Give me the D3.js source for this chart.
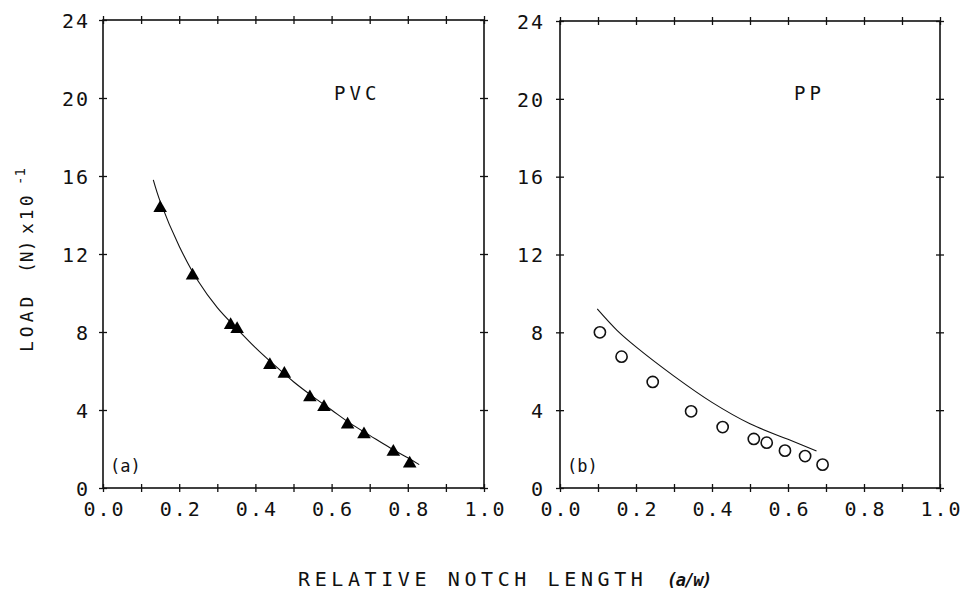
<!DOCTYPE html>
<html>
<head>
<meta charset="utf-8">
<script src="https://cdn.jsdelivr.net/npm/d3@7"></script>
<style>
  body { margin: 0; background: #fff; }
  svg text { font-family: "DejaVu Sans Mono", monospace; fill: #111; }
</style>
</head>
<body>
<div id="chart"></div>
<script>
// measured points, PVC (triangles)
var pvcX = [0.15, 0.235, 0.335, 0.352, 0.438, 0.476, 0.543, 0.58, 0.642, 0.685, 0.762, 0.805];
var pvcY = [14.4, 10.95, 8.4, 8.2, 6.35, 5.9, 4.7, 4.2, 3.3, 2.8, 1.9, 1.3];
// fitted curve, PVC
var pvcFitX = [0.132, 0.15, 0.2, 0.25, 0.3, 0.35, 0.4, 0.45, 0.5, 0.55, 0.6, 0.65, 0.7, 0.75, 0.8, 0.83];
var pvcFitY = [15.8, 14.7, 12.4, 10.6, 9.25, 8.2, 7.2, 6.3, 5.45, 4.7, 4.0, 3.3, 2.7, 2.1, 1.55, 1.2];

// measured points, PP (circles)
var ppX = [0.105, 0.162, 0.244, 0.345, 0.428, 0.51, 0.544, 0.592, 0.645, 0.691];
var ppY = [8.0, 6.75, 5.45, 3.94, 3.13, 2.52, 2.33, 1.92, 1.64, 1.2];
// fitted curve, PP
var ppFitX = [0.098, 0.15, 0.2, 0.3, 0.4, 0.5, 0.6, 0.675];
var ppFitY = [9.2, 8.1, 7.25, 5.75, 4.4, 3.3, 2.5, 1.9];

var xTicks = [0, 0.2, 0.4, 0.6, 0.8, 1.0];
var xMinorTicks = d3.range(0, 11).map(function(i) { return i / 10; });
var yTicks = [0, 4, 8, 12, 16, 20, 24];

var width = 962, height = 593;
var tickSpacing = 2;

var svg = d3.select('#chart').append('svg')
    .attr('width', width).attr('height', height);

function isMajor(d) {
    return xTicks.some(function(t) { return Math.abs(t - d) < 1e-9; });
}

// ticks cross the frame line, like the plotter drew them
function crossTicks(sel, horizontal) {
    sel.select('.domain').remove();
    if (horizontal) {
        sel.selectAll('.tick line').attr('y1', -4).attr('y2', 4);
    } else {
        sel.selectAll('.tick line').attr('x1', -4).attr('x2', 4);
    }
    sel.selectAll('.tick line').attr('stroke', '#111').attr('stroke-width', 1.3);
}

function makePanel(opt) {
    var x = d3.scaleLinear().domain([0, 1]).range([opt.left, opt.right]);
    var y = d3.scaleLinear().domain([0, 24]).range([opt.bottom, opt.top]);
    var g = svg.append('g');

    // frame
    g.append('rect')
        .attr('x', opt.left).attr('y', opt.top)
        .attr('width', opt.right - opt.left).attr('height', opt.bottom - opt.top)
        .attr('fill', 'none').attr('stroke', '#111').attr('stroke-width', 1.6);

    // bottom axis with labels
    var bottom = g.append('g').attr('transform', 'translate(0,' + opt.bottom + ')')
        .call(d3.axisBottom(x).tickValues(xMinorTicks).tickSize(4).tickSizeOuter(0)
            .tickFormat(function(d) { return isMajor(d) ? d3.format('.1f')(d) : ''; }));
    crossTicks(bottom, true);
    bottom.selectAll('.tick text')
        .attr('dy', 0).attr('y', 28).attr('dx', tickSpacing / 2)
        .attr('font-size', 20).attr('letter-spacing', tickSpacing);

    // top axis, ticks only
    var top = g.append('g').attr('transform', 'translate(0,' + opt.top + ')')
        .call(d3.axisTop(x).tickValues(xMinorTicks).tickSize(4).tickSizeOuter(0).tickFormat(''));
    crossTicks(top, true);

    // left axis with labels
    var left = g.append('g').attr('transform', 'translate(' + opt.left + ',0)')
        .call(d3.axisLeft(y).tickValues(yTicks).tickSize(4).tickSizeOuter(0));
    crossTicks(left, false);
    left.selectAll('.tick text')
        .attr('x', -opt.labelGap + tickSpacing).attr('dy', '0.36em')
        .attr('font-size', 20).attr('letter-spacing', tickSpacing);

    // right axis, ticks only
    var right = g.append('g').attr('transform', 'translate(' + opt.right + ',0)')
        .call(d3.axisRight(y).tickValues(yTicks).tickSize(4).tickSizeOuter(0).tickFormat(''));
    crossTicks(right, false);

    // fitted curve
    var line = d3.line()
        .x(function(d) { return x(d[0]); })
        .y(function(d) { return y(d[1]); })
        .curve(d3.curveCatmullRom);
    g.append('path')
        .datum(d3.zip(opt.fitX, opt.fitY))
        .attr('d', line)
        .attr('fill', 'none').attr('stroke', '#111').attr('stroke-width', 1.1);

    // points
    var pts = d3.zip(opt.ptX, opt.ptY);
    if (opt.marker === 'triangle') {
        g.selectAll('path.pt').data(pts).enter().append('path')
            .attr('class', 'pt')
            .attr('d', d3.symbol().type(d3.symbolTriangle).size(80))
            .attr('transform', function(d) { return 'translate(' + x(d[0]) + ',' + (y(d[1]) + 1) + ')'; })
            .attr('fill', '#000');
    } else {
        g.selectAll('circle.pt').data(pts).enter().append('circle')
            .attr('class', 'pt')
            .attr('cx', function(d) { return x(d[0]); })
            .attr('cy', function(d) { return y(d[1]); })
            .attr('r', 5.6)
            .attr('fill', 'none').attr('stroke', '#111').attr('stroke-width', 1.6);
    }

    // labels
    g.append('text').attr('x', opt.nameX).attr('y', 100)
        .attr('font-size', 19).attr('letter-spacing', 4).text(opt.name);
    g.append('text').attr('x', opt.left + 7).attr('y', opt.bottom - 16)
        .attr('font-size', 17).text(opt.tag);
}

makePanel({
    left: 103, right: 484, top: 20, bottom: 488, labelGap: 15,
    ptX: pvcX, ptY: pvcY, fitX: pvcFitX, fitY: pvcFitY,
    marker: 'triangle', name: 'PVC', nameX: 334, tag: '(a)'
});

makePanel({
    left: 560, right: 940, top: 21, bottom: 488, labelGap: 17,
    ptX: ppX, ptY: ppY, fitX: ppFitX, fitY: ppFitY,
    marker: 'circle', name: 'PP', nameX: 794, tag: '(b)'
});

// y axis title (rotated; x in the text frame runs up the page)
var yt = svg.append('text')
    .attr('transform', 'translate(33,0) rotate(-90)')
    .attr('font-size', 18);
yt.append('tspan').attr('x', -352).attr('letter-spacing', 4).text('LOAD');
yt.append('tspan').attr('x', -273).attr('letter-spacing', 0).text('(N)');
yt.append('tspan').attr('x', -234).attr('letter-spacing', 3).text('x10');
yt.append('tspan').attr('x', -185).attr('dy', -8).attr('font-size', 14).attr('letter-spacing', 0).text('-1');

// x axis title
var xt = svg.append('text')
    .attr('y', 586)
    .attr('font-size', 20);
xt.append('tspan').attr('x', 298).attr('letter-spacing', 4.6).text('RELATIVE NOTCH LENGTH');
xt.append('tspan').attr('x', 667).attr('font-style', 'italic').attr('font-weight', 'bold')
    .attr('font-size', 17).attr('letter-spacing', -1.5).text('(a/w)');
</script>
</body>
</html>
